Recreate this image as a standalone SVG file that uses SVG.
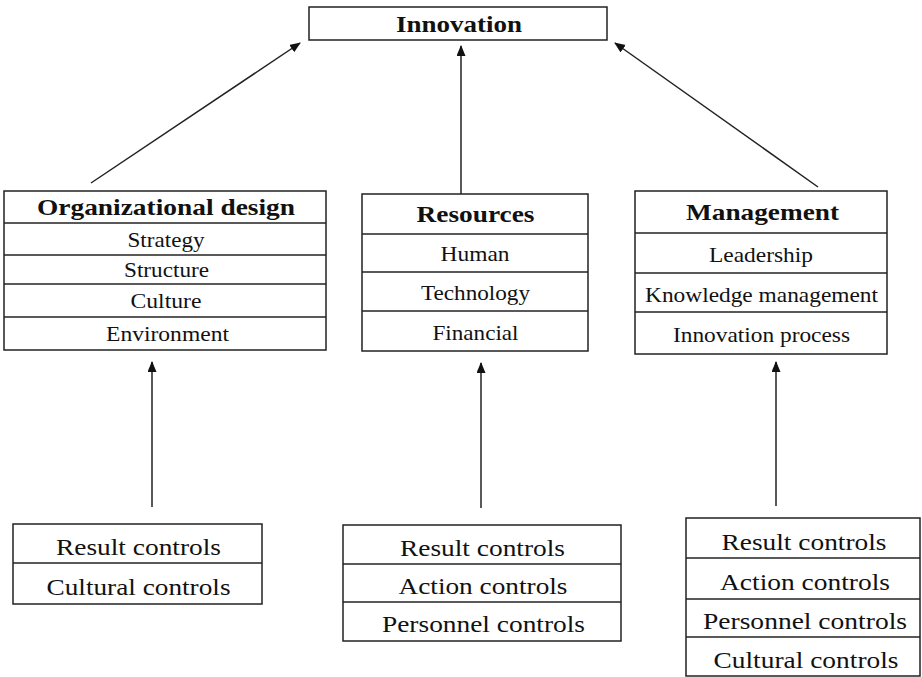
<svg xmlns="http://www.w3.org/2000/svg" width="922" height="677" viewBox="0 0 922 677">
<style>
.box{fill:#fff;stroke:#222;stroke-width:1.5}
.sep{stroke:#222;stroke-width:1.5}
.h{font-family:"Liberation Serif","Times New Roman",serif;font-weight:bold;font-size:23px;fill:#111;text-anchor:middle}
.t{font-family:"Liberation Serif","Times New Roman",serif;font-size:22px;fill:#111;text-anchor:middle}
.b{font-family:"Liberation Serif","Times New Roman",serif;font-size:22.5px;fill:#111;text-anchor:middle}
.c{stroke:#222;stroke-width:1.5;fill:none;marker-end:url(#ah)}
</style>
<defs>
<marker id="ah" markerWidth="12" markerHeight="10" refX="10" refY="4.5" orient="auto" markerUnits="userSpaceOnUse">
<path d="M0,0 L11,4.5 L0,9 Z" fill="#111"/>
</marker>
</defs>
<rect width="922" height="677" fill="#fff"/>

<g id="connectors">
<line class="c" x1="91" y1="183" x2="300" y2="43"/>
<line class="c" x1="461" y1="194" x2="461" y2="46"/>
<line class="c" x1="818" y1="187" x2="615" y2="43"/>
<line class="c" x1="152" y1="507" x2="152" y2="362"/>
<line class="c" x1="481" y1="508" x2="481" y2="363"/>
<line class="c" x1="776" y1="506" x2="776" y2="362"/>
</g>

<g id="innovation">
<rect class="box" x="309" y="7" width="298" height="33"/>
<text class="h" x="459" y="31.5" textLength="126" lengthAdjust="spacingAndGlyphs">Innovation</text>
</g>

<g id="org-design">
<rect class="box" x="4" y="191" width="322" height="159"/>
<line class="sep" x1="4" y1="223" x2="326" y2="223"/>
<line class="sep" x1="4" y1="255" x2="326" y2="255"/>
<line class="sep" x1="4" y1="284" x2="326" y2="284"/>
<line class="sep" x1="4" y1="317" x2="326" y2="317"/>
<text class="h" x="166" y="215" textLength="258" lengthAdjust="spacingAndGlyphs">Organizational design</text>
<text class="t" x="166" y="246.5" textLength="77" lengthAdjust="spacingAndGlyphs">Strategy</text>
<text class="t" x="166.5" y="277" textLength="85" lengthAdjust="spacingAndGlyphs">Structure</text>
<text class="t" x="166" y="308" textLength="71" lengthAdjust="spacingAndGlyphs">Culture</text>
<text class="t" x="167.5" y="341" textLength="123" lengthAdjust="spacingAndGlyphs">Environment</text>
</g>

<g id="resources">
<rect class="box" x="362" y="194" width="226" height="157"/>
<line class="sep" x1="362" y1="234" x2="588" y2="234"/>
<line class="sep" x1="362" y1="272" x2="588" y2="272"/>
<line class="sep" x1="362" y1="311" x2="588" y2="311"/>
<text class="h" x="475.5" y="222" textLength="118" lengthAdjust="spacingAndGlyphs">Resources</text>
<text class="t" x="475" y="261" textLength="69" lengthAdjust="spacingAndGlyphs">Human</text>
<text class="t" x="475.5" y="299.5" textLength="109" lengthAdjust="spacingAndGlyphs">Technology</text>
<text class="t" x="475.5" y="339.5" textLength="86" lengthAdjust="spacingAndGlyphs">Financial</text>
</g>

<g id="management">
<rect class="box" x="635" y="191" width="252" height="163"/>
<line class="sep" x1="635" y1="233" x2="887" y2="233"/>
<line class="sep" x1="635" y1="273" x2="887" y2="273"/>
<line class="sep" x1="635" y1="312" x2="887" y2="312"/>
<text class="h" x="762.5" y="219.5" textLength="153" lengthAdjust="spacingAndGlyphs">Management</text>
<text class="t" x="761" y="262" textLength="104" lengthAdjust="spacingAndGlyphs">Leadership</text>
<text class="t" x="761.5" y="301.5" textLength="233" lengthAdjust="spacingAndGlyphs">Knowledge management</text>
<text class="t" x="761.5" y="341.5" textLength="177" lengthAdjust="spacingAndGlyphs">Innovation process</text>
</g>

<g id="controls-org">
<rect class="box" x="13" y="524" width="249" height="80"/>
<line class="sep" x1="13" y1="563" x2="262" y2="563"/>
<text class="b" x="138.5" y="555" textLength="165" lengthAdjust="spacingAndGlyphs">Result controls</text>
<text class="b" x="138.5" y="595" textLength="184" lengthAdjust="spacingAndGlyphs">Cultural controls</text>
</g>

<g id="controls-resources">
<rect class="box" x="343" y="525" width="278" height="116"/>
<line class="sep" x1="343" y1="564" x2="621" y2="564"/>
<line class="sep" x1="343" y1="602" x2="621" y2="602"/>
<text class="b" x="482.5" y="556" textLength="165" lengthAdjust="spacingAndGlyphs">Result controls</text>
<text class="b" x="483" y="594" textLength="169" lengthAdjust="spacingAndGlyphs">Action controls</text>
<text class="b" x="483.5" y="632" textLength="203" lengthAdjust="spacingAndGlyphs">Personnel controls</text>
</g>

<g id="controls-management">
<rect class="box" x="686" y="518" width="234" height="158"/>
<line class="sep" x1="686" y1="558" x2="920" y2="558"/>
<line class="sep" x1="686" y1="599" x2="920" y2="599"/>
<line class="sep" x1="686" y1="637" x2="920" y2="637"/>
<text class="b" x="804" y="550" textLength="165" lengthAdjust="spacingAndGlyphs">Result controls</text>
<text class="b" x="805" y="590" textLength="170" lengthAdjust="spacingAndGlyphs">Action controls</text>
<text class="b" x="805" y="629" textLength="204" lengthAdjust="spacingAndGlyphs">Personnel controls</text>
<text class="b" x="806" y="668" textLength="185" lengthAdjust="spacingAndGlyphs">Cultural controls</text>
</g>
</svg>
